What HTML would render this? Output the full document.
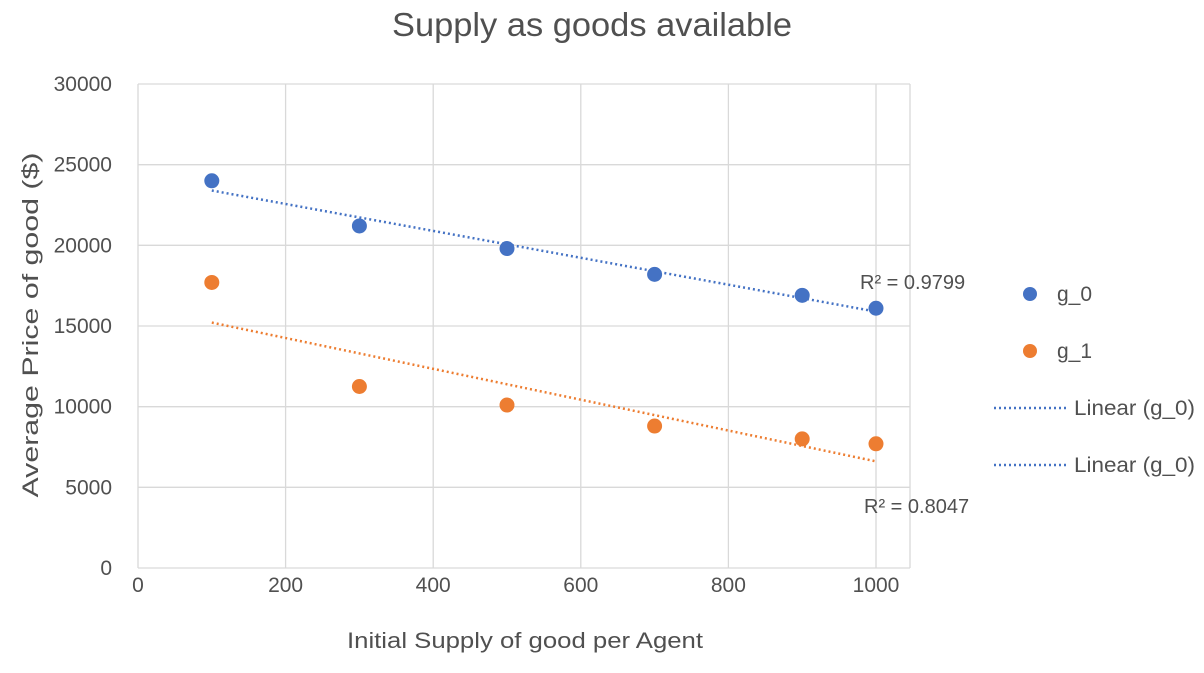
<!DOCTYPE html>
<html><head><meta charset="utf-8"><style>
body{margin:0;background:#fff;font-family:"Liberation Sans",sans-serif;}
svg text{font-family:"Liberation Sans",sans-serif;fill:#505050;}
</style></head><body>
<svg id="chart" width="1204" height="668" xmlns="http://www.w3.org/2000/svg">
<text x="592" y="36" font-size="33" text-anchor="middle" textLength="400" lengthAdjust="spacingAndGlyphs">Supply as goods available</text>
<g id="grid"></g><g id="marks"></g>
<text x="525" y="648" font-size="22" text-anchor="middle" textLength="356" lengthAdjust="spacingAndGlyphs">Initial Supply of good per Agent</text>
<text transform="translate(38,325) rotate(-90)" font-size="22" text-anchor="middle" textLength="345" lengthAdjust="spacingAndGlyphs">Average Price of good ($)</text>
<g>
<circle cx="1030" cy="294" r="7" fill="#4472c4"/>
<text x="1057" y="301" font-size="21">g_0</text>
<circle cx="1030" cy="351" r="7" fill="#ed7d31"/>
<text x="1057" y="358" font-size="21">g_1</text>
<line x1="994" y1="408" x2="1066" y2="408" stroke="#4472c4" stroke-width="2.5" stroke-dasharray="2,3"/>
<text x="1074" y="415" font-size="21" textLength="121" lengthAdjust="spacingAndGlyphs">Linear (g_0)</text>
<line x1="994" y1="465" x2="1066" y2="465" stroke="#4472c4" stroke-width="2.5" stroke-dasharray="2,3"/>
<text x="1074" y="472" font-size="21" textLength="121" lengthAdjust="spacingAndGlyphs">Linear (g_0)</text>
</g>
<text x="860" y="289" font-size="20">R² = 0.9799</text>
<text x="864" y="513" font-size="20">R² = 0.8047</text>
</svg>
<script>
const xs = [100, 300, 500, 700, 900, 1000];
const g0 = [24000, 21200, 19800, 18200, 16900, 16100];
const g1 = [17700, 11250, 10100, 8800, 8000, 7700];
const xTicks = [0, 200, 400, 600, 800, 1000];
const yTicks = [0, 5000, 10000, 15000, 20000, 25000, 30000];
const NS="http://www.w3.org/2000/svg";
const X=v=>138+v*0.738, Y=v=>568-v*(484/30000);
function mk(t,a,p){const e=document.createElementNS(NS,t);for(const k in a)e.setAttribute(k,a[k]);p.appendChild(e);return e;}
const grid=document.getElementById('grid'), marks=document.getElementById('marks');
xTicks.forEach(t=>{
 const l=mk('line',{x1:X(t),x2:X(t),y1:Y(30000),y2:Y(0),stroke:'#d9d9d9','stroke-width':1.3},grid);
 
 
 const tx=mk('text',{x:X(t),y:592,'font-size':21,'text-anchor':'middle'},grid);tx.textContent=t;
 
 
});
const lr=mk('line',{x1:910,x2:910,y1:Y(30000),y2:Y(0),stroke:'#d9d9d9','stroke-width':1.3},grid);


yTicks.forEach(t=>{
 const l=mk('line',{x1:X(0),x2:910,y1:Y(t),y2:Y(t),stroke:'#d9d9d9','stroke-width':1.3},grid);
 
 
 const tx=mk('text',{x:112,y:Y(t)+7,'font-size':21,'text-anchor':'end'},grid);tx.textContent=t;
 
 
});
function fit(ys){const n=xs.length;const mx=xs.reduce((a,b)=>a+b)/n,my=ys.reduce((a,b)=>a+b)/n;let sxy=0,sxx=0;xs.forEach((x,i)=>{sxy+=(x-mx)*(ys[i]-my);sxx+=(x-mx)**2;});const b=sxy/sxx;return [b,my-b*mx];}
[[g0,'#4472c4','g0'],[g1,'#ed7d31','g1']].forEach(([ys,c,n])=>{
 const [b,a]=fit(ys);const x0=xs[0],x1=xs[xs.length-1];
 const l=mk('line',{x1:X(x0),y1:Y(a+b*x0),x2:X(x1),y2:Y(a+b*x1),stroke:c,'stroke-width':2.5,'stroke-dasharray':'2,3'},marks);
 
 
 xs.forEach((x,i)=>{const p=mk('circle',{cx:X(x),cy:Y(ys[i]),r:7.5,fill:c},marks);
  
  });
});
</script>
</body></html>
